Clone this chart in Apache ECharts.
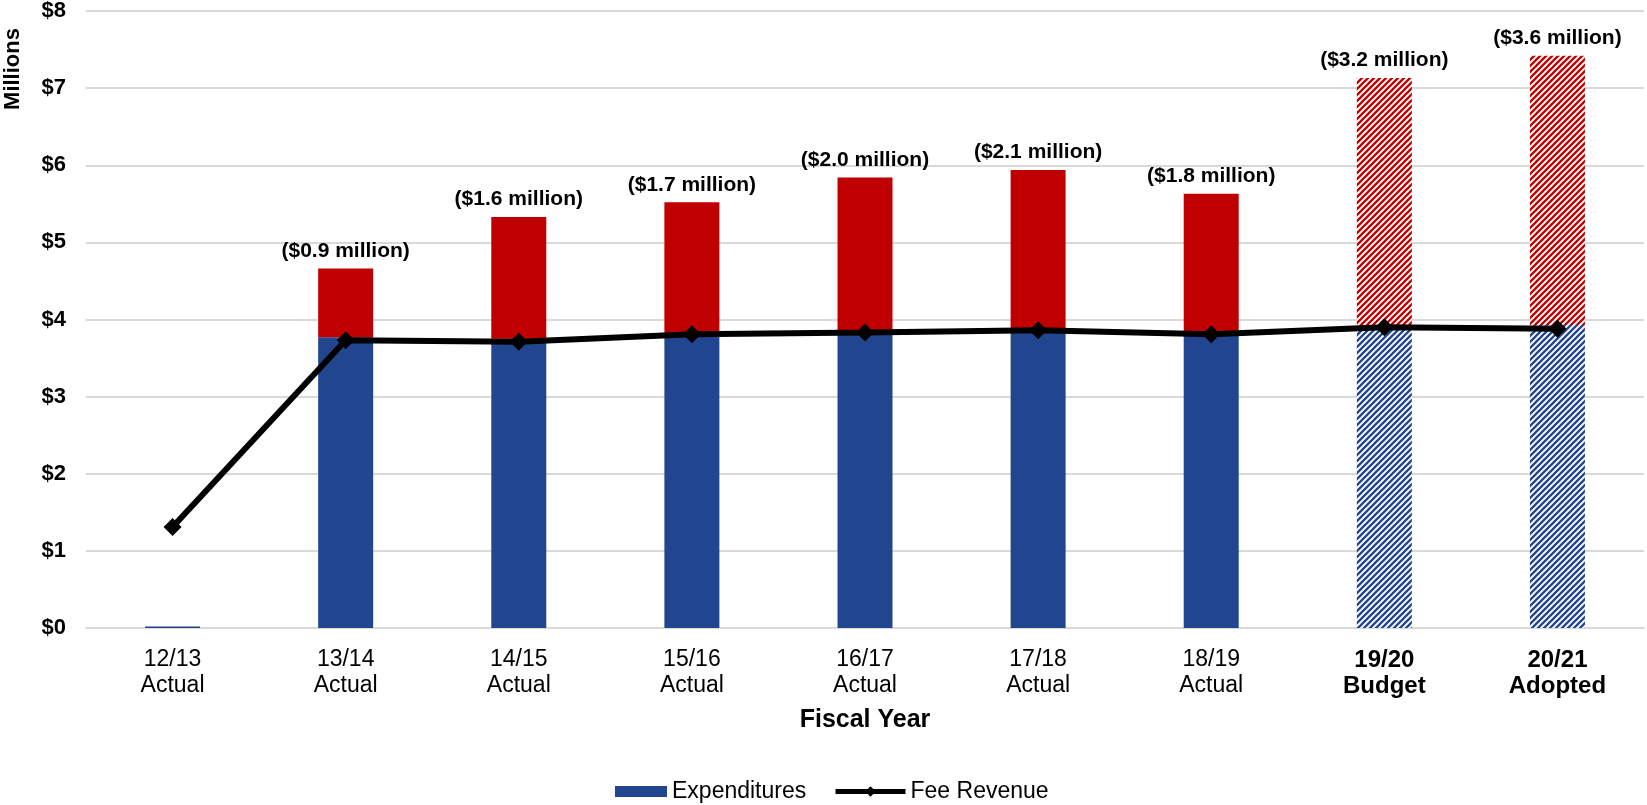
<!DOCTYPE html>
<html>
<head>
<meta charset="utf-8">
<script src="https://cdn.jsdelivr.net/npm/echarts@6/dist/echarts.min.js"></script>
<style>
html,body{margin:0;padding:0;background:#fff;}
#chart{width:1647px;height:805px;}
</style>
</head>
<body>
<div id="chart"></div>
<script>
// ---- data ----
const categories = ['12/13\nActual','13/14\nActual','14/15\nActual','15/16\nActual','16/17\nActual','17/18\nActual','18/19\nActual','19/20\nBudget','20/21\nAdopted'];
const boldCategories = ['19/20\nBudget','20/21\nAdopted'];
const expenditures = [0.02, 3.77, 3.75, 3.82, 3.84, 3.85, 3.83, 3.92, 3.93];
const shortfall = [0, 0.89, 1.58, 1.70, 2.00, 2.09, 1.80, 3.21, 3.49];
const shortfallLabels = ['', '($0.9 million)', '($1.6 million)', '($1.7 million)', '($2.0 million)', '($2.1 million)', '($1.8 million)', '($3.2 million)', '($3.6 million)'];
const feeRevenue = [1.31, 3.73, 3.71, 3.81, 3.83, 3.86, 3.81, 3.90, 3.88];
const hatched = [false, false, false, false, false, false, false, true, true];
const yTicks = [0, 1, 2, 3, 4, 5, 6, 7, 8];

const BLUE = '#21468f';
const RED = '#c00000';
const FONT = '"Liberation Sans", Arial, sans-serif';

function makeHatch(color) {
  const s = 6;
  const c = document.createElement('canvas');
  c.width = s; c.height = s;
  const ctx = c.getContext('2d');
  ctx.fillStyle = '#ffffff';
  ctx.fillRect(0, 0, s, s);
  ctx.strokeStyle = color;
  ctx.lineWidth = 2.3;
  ctx.beginPath();
  ctx.moveTo(0, s); ctx.lineTo(s, 0);
  ctx.moveTo(-1, 1); ctx.lineTo(1, -1);
  ctx.moveTo(s - 1, s + 1); ctx.lineTo(s + 1, s - 1);
  ctx.stroke();
  return { image: c, repeat: 'repeat' };
}
const blueHatch = makeHatch(BLUE);
const redHatch = makeHatch(RED);

const expData = expenditures.map((v, i) => hatched[i] ? { value: v, itemStyle: { color: blueHatch } } : v);
const shortData = shortfall.map((v, i) => hatched[i] ? { value: v, itemStyle: { color: redHatch } } : v);

const chart = echarts.init(document.getElementById('chart'), null, { renderer: 'canvas' });
chart.setOption({
  animation: false,
  backgroundColor: '#ffffff',
  textStyle: { fontFamily: FONT },
  grid: { left: 86, right: 3, top: 10, bottom: 177, containLabel: false },
  legend: [
    {
      data: [{ name: 'Expenditures', icon: 'rect', itemStyle: { color: BLUE } }],
      left: 610,
      top: 775,
      itemWidth: 52,
      itemHeight: 11,
      textStyle: { fontSize: 23, color: '#000', fontFamily: FONT }
    },
    {
      data: [{ name: 'Fee Revenue', lineStyle: { width: 5, color: '#000' }, itemStyle: { color: '#000' } }],
      left: 828,
      top: 775,
      itemWidth: 70,
      itemHeight: 13,
      textStyle: { fontSize: 23, color: '#000', fontFamily: FONT }
    }
  ],
  graphic: [{
    type: 'text',
    x: 13, y: 69,
    rotation: Math.PI / 2,
    style: { text: 'Millions', font: 'bold 22px ' + FONT, fill: '#000', align: 'center', verticalAlign: 'middle' }
  }],
  xAxis: {
    type: 'category',
    data: categories,
    name: 'Fiscal Year',
    nameLocation: 'middle',
    nameGap: 80,
    nameTextStyle: { fontSize: 25, fontWeight: 'bold', color: '#000', fontFamily: FONT },
    axisLine: { show: true, lineStyle: { color: '#d9d9d9', width: 2 } },
    axisTick: { show: false },
    axisLabel: {
      interval: 0,
      margin: 19,
      fontSize: 23,
      lineHeight: 26,
      color: '#000',
      fontFamily: FONT,
      formatter: function (val) {
        if (boldCategories.indexOf(val) >= 0) {
          return val.split('\n').map(s => '{b|' + s + '}').join('\n');
        }
        return val;
      },
      rich: { b: { fontWeight: 'bold', fontSize: 24, lineHeight: 26, color: '#000', fontFamily: FONT } }
    }
  },
  yAxis: {
    type: 'value',
    min: yTicks[0],
    max: yTicks[yTicks.length - 1],
    interval: 1,
    axisLine: { show: false },
    axisTick: { show: false },
    splitLine: { lineStyle: { color: '#d9d9d9', width: 2 } },
    axisLabel: {
      margin: 20,
      fontSize: 22,
      fontWeight: 'bold',
      color: '#000',
      fontFamily: FONT,
      formatter: v => '$' + v
    }
  },
  series: [
    {
      name: 'Expenditures',
      type: 'bar',
      stack: 'total',
      barWidth: 55,
      itemStyle: { color: BLUE },
      data: expData,
      z: 2
    },
    {
      name: 'Shortfall',
      type: 'bar',
      stack: 'total',
      barWidth: 55,
      itemStyle: { color: RED },
      data: shortData,
      label: {
        show: true,
        position: 'top',
        distance: 7,
        fontSize: 21,
        fontWeight: 'bold',
        color: '#000',
        fontFamily: FONT,
        formatter: p => shortfallLabels[p.dataIndex]
      },
      z: 2
    },
    {
      name: 'Fee Revenue',
      type: 'line',
      data: feeRevenue,
      symbol: 'diamond',
      symbolSize: 18,
      lineStyle: { color: '#000', width: 6 },
      itemStyle: { color: '#000' },
      z: 5
    }
  ]
});
</script>
</body>
</html>
